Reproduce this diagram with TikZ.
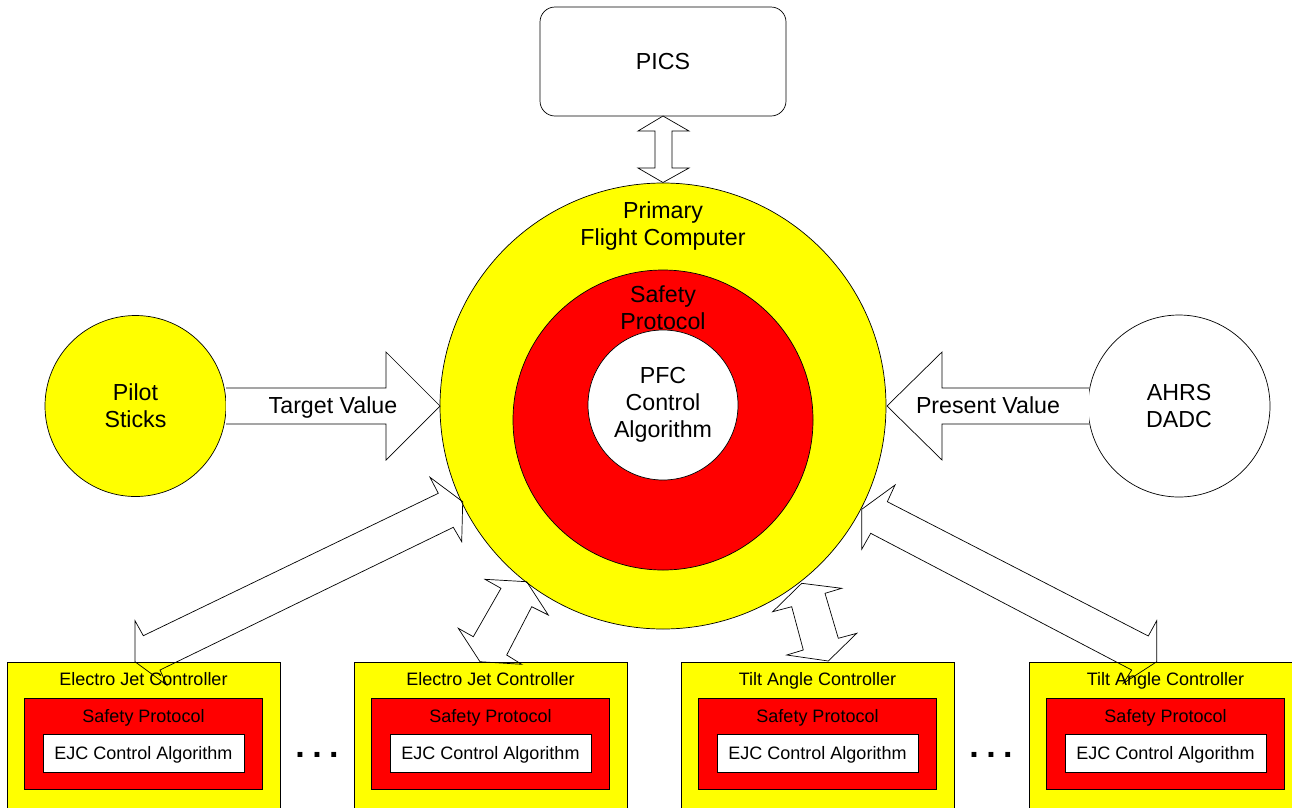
\documentclass[tikz,border=0pt]{standalone}
\usepackage{fontspec}
\setmainfont{Liberation Sans}
\definecolor{ylw}{RGB}{255,255,0}
\definecolor{rd}{RGB}{255,0,0}
\begin{document}
\begin{tikzpicture}[x=1pt,y=-1pt,
  outl/.style={draw=black,line width=0.7pt},
  ring/.style={circle,outl,inner sep=0pt},
  big/.style={font=\fontsize{23.2}{26.8}\selectfont,align=center,inner sep=0pt},
  small/.style={font=\fontsize{18}{21}\selectfont,inner sep=0pt,anchor=base},
  blockarrow/.style={outl,line join=miter},
  dots/.style={font=\bfseries\fontsize{34}{34}\selectfont,inner sep=0pt,anchor=base}]
\clip (0,0) rectangle (1292,807);
\fill[white] (0,0) rectangle (1292,807);

% PICS
\node[outl,rounded corners=15pt,minimum width=246pt,minimum height=109pt] (pics) at (663,61.5) {};
\node[big,anchor=base] (picst) at (663,69) {PICS};

% Primary flight computer rings
\node[ring,fill=ylw,minimum size=446pt] (pfc) at (663,406) {};
\node[ring,fill=rd,minimum size=300pt] (safe) at (663,420) {};
\node[ring,fill=white,minimum size=150pt] (alg) at (663,405) {};
\node[big] (pfct) at (663,226) {Primary\\Flight Computer};
\node[big] (safet) at (663,308) {Safety\\Protocol};
\node[big] (algt) at (663,405) {PFC\\Control\\Algorithm};

% side circles
\node[ring,fill=ylw,minimum size=181pt] (pilot) at (135.5,406) {};
\node[big] (pilott) at (135.5,406) {Pilot\\Sticks};
\node[ring,fill=white,minimum size=182pt] (ahrs) at (1179,406) {};
\node[big] (ahrst) at (1179,406) {AHRS\\DADC};

% PICS double arrow
\draw[blockarrow,fill=white] (663,116) -- (689,131) -- (672,131) -- (672,168) -- (689,168)
  -- (663,182.5) -- (638,168) -- (655,168) -- (655,131) -- (638,131) -- cycle;

% Target value arrow
\draw[blockarrow,fill=white] (226,388) -- (386,388) -- (386,352) -- (440,406) -- (386,460)
  -- (386,424) -- (226,424);
\node[big,anchor=base] (tv) at (333,413) {Target Value};
% Present value arrow
\draw[blockarrow,fill=white] (1089,388) -- (942,388) -- (942,352) -- (887,406) -- (942,460)
  -- (942,424) -- (1089,424);
\node[big,anchor=base] (pv) at (988,413) {Present Value};

% Bottom controllers
\foreach \n/\x/\t in {c1/143.5/Electro Jet Controller,c2/490.5/Electro Jet Controller,
                      c3/817.5/Tilt Angle Controller,c4/1165.5/Tilt Angle Controller}{
  \node[outl,fill=ylw,minimum width=273pt,minimum height=160pt,inner sep=0pt,anchor=north] (\n) at (\x,662) {};
  \node[outl,fill=rd,minimum width=238pt,minimum height=91pt,inner sep=0pt,anchor=north] (\n s) at (\x,698) {};
  \node[outl,fill=white,minimum width=201pt,minimum height=38pt,inner sep=0pt,anchor=north] (\n a) at (\x,734) {};
  \node[small] (\n t) at (\x,685.5) {\t};
  \node[small] (\n st) at (\x,722.5) {Safety Protocol};
  \node[small] (\n at) at (\x,759.5) {EJC Control Algorithm};
}
\node[dots] (d1) at (317,757) {.\hspace{7.5pt}.\hspace{7.5pt}.};
\node[dots] (d2) at (991,757) {.\hspace{7.5pt}.\hspace{7.5pt}.};

% diagonal double arrows (outline only)
\draw[blockarrow] (135,661.7) -- (135,620.7) -- (143.3,635.7) -- (438.3,493.3) -- (430,477.3)
  -- (462.7,501.7) -- (461.7,541.7) -- (453.3,527.3) -- (160,670) -- (166.7,685) -- cycle;
\draw[blockarrow] (526.7,581.7) -- (485,579.3) -- (501,588.3) -- (473.3,636.7) -- (458.3,628.3)
  -- (480,661.7) -- (521.7,664.3) -- (506.7,655) -- (531.7,606.7) -- (548.3,615) -- cycle;
\draw[blockarrow] (801.7,583.3) -- (841.7,588.3) -- (825,593.3) -- (838.3,638.3) -- (856.7,633.3)
  -- (828.3,661) -- (786.7,655) -- (803.3,650) -- (791.7,606.7) -- (772.7,611.7) -- cycle;
\draw[blockarrow] (861.7,509.3) -- (895,485) -- (887.3,501.7) -- (1148.3,636) -- (1156.7,620.7)
  -- (1156.7,661.7) -- (1123.3,683.3) -- (1131.7,670) -- (870.7,533.3) -- (861.7,549.3) -- cycle;
\end{tikzpicture}
\end{document}
